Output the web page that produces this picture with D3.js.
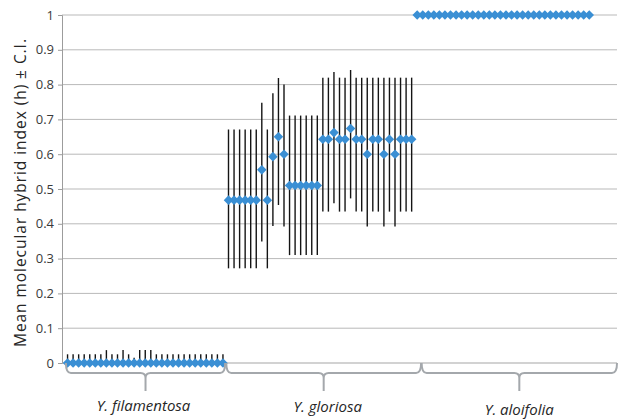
<!DOCTYPE html>
<html>
<head>
<meta charset="utf-8">
<script src="https://cdn.jsdelivr.net/npm/d3@7"></script>
<style>
  body { margin: 0; background: #fff; }
  svg { display: block; }
</style>
</head>
<body>
<div id="chart"></div>
<script>
// species groups (labels under the braces)
var groups = ["Y. filamentosa", "Y. gloriosa", "Y. aloifolia"];

// mean hybrid index per individual, with lower / upper C.I. bounds
var filamentosaMean = [0, 0, 0, 0, 0, 0, 0, 0, 0, 0, 0, 0, 0, 0, 0, 0, 0, 0, 0, 0, 0, 0, 0, 0, 0, 0, 0, 0, 0];
var filamentosaLow = [0, 0, 0, 0, 0, 0, 0, 0, 0, 0, 0, 0, 0, 0, 0, 0, 0, 0, 0, 0, 0, 0, 0, 0, 0, 0, 0, 0, 0];
var filamentosaHigh = [0.025, 0.025, 0.025, 0.025, 0.025, 0.025, 0.025, 0.037, 0.025, 0.025, 0.037, 0.025, 0.015, 0.037, 0.037,
    0.037, 0.025, 0.025, 0.025, 0.025, 0.025, 0.025, 0.025, 0.025, 0.025, 0.025, 0.025, 0.025, 0.025];

var gloriosaMean = [0.468, 0.468, 0.468, 0.468, 0.468, 0.468, 0.555, 0.468, 0.593, 0.65, 0.6,
    0.51, 0.51, 0.51, 0.51, 0.51, 0.51,
    0.643, 0.643, 0.662, 0.643, 0.643, 0.674, 0.643, 0.643, 0.6, 0.643, 0.643, 0.6, 0.643, 0.6, 0.643, 0.643, 0.643];
var gloriosaLow = [0.272, 0.272, 0.272, 0.272, 0.272, 0.272, 0.349, 0.272, 0.394, 0.454, 0.392,
    0.31, 0.31, 0.31, 0.31, 0.31, 0.31,
    0.435, 0.435, 0.459, 0.435, 0.435, 0.473, 0.435, 0.435, 0.392, 0.435, 0.435, 0.392, 0.435, 0.392, 0.435, 0.435, 0.435];
var gloriosaHigh = [0.671, 0.671, 0.671, 0.671, 0.671, 0.671, 0.748, 0.671, 0.775, 0.819, 0.8,
    0.711, 0.711, 0.711, 0.711, 0.711, 0.711,
    0.82, 0.82, 0.836, 0.82, 0.82, 0.842, 0.82, 0.82, 0.82, 0.82, 0.82, 0.82, 0.82, 0.82, 0.82, 0.82, 0.82];

var aloifoliaMean = [1, 1, 1, 1, 1, 1, 1, 1, 1, 1, 1, 1, 1, 1, 1, 1, 1, 1, 1, 1, 1, 1, 1, 1, 1, 1, 1, 1, 1, 1, 1, 1];

// brace spans along the x axis (in individual-number units)
var braceStart = [0.7, 29.6, 64.8];
var braceEnd = [29.4, 64.7, 100];

var yTicks = [0, 0.1, 0.2, 0.3, 0.4, 0.5, 0.6, 0.7, 0.8, 0.9, 1];

var width = 620, height = 419;

var svg = d3.select("#chart").append("svg")
    .attr("width", width)
    .attr("height", height);

// build a flat list of points, numbered 1..n along x
var data = [];
filamentosaMean.forEach(function (m, i) {
    data.push({ n: data.length + 1, mean: m, lo: filamentosaLow[i], hi: filamentosaHigh[i] });
});
gloriosaMean.forEach(function (m, i) {
    data.push({ n: data.length + 1, mean: m, lo: gloriosaLow[i], hi: gloriosaHigh[i] });
});
aloifoliaMean.forEach(function (m) {
    data.push({ n: data.length + 1, mean: m, lo: m, hi: m });
});

var x = d3.scaleLinear().domain([0, 100]).range([62, 617]);
var y = d3.scaleLinear().domain([0, 1]).range([363, 15]);

// gridlines
svg.append("g")
    .selectAll("line")
    .data(yTicks.slice(1))
    .enter().append("line")
    .attr("x1", x(0)).attr("x2", x(100))
    .attr("y1", function (d) { return y(d); })
    .attr("y2", function (d) { return y(d); })
    .attr("stroke", "#b9b9b9")
    .attr("stroke-width", 1);

// y axis
var yAxis = svg.append("g")
    .attr("transform", "translate(" + x(0) + ",0)")
    .call(d3.axisLeft(y).tickValues(yTicks).tickSize(4).tickPadding(4)
        .tickFormat(function (d) { return String(+d.toFixed(1)); }));
yAxis.select(".domain").attr("stroke", "#9c9c9c");
yAxis.selectAll(".tick line").attr("stroke", "#9c9c9c");
yAxis.selectAll("text")
    .attr("fill", "#3a3a3a")
    .style("font-family", "'Open Sans', sans-serif")
    .style("font-size", "13px");

// zero line (x axis)
svg.append("line")
    .attr("x1", x(0)).attr("x2", x(100))
    .attr("y1", y(0)).attr("y2", y(0))
    .attr("stroke", "#a6a6a6")
    .attr("stroke-width", 1.2);

// y title
svg.append("text")
    .attr("transform", "translate(26," + 193 + ") rotate(-90)")
    .attr("text-anchor", "middle")
    .attr("fill", "#262626")
    .style("font-family", "'Open Sans', sans-serif")
    .style("font-size", "15.5px")
    .attr("textLength", 308)
    .attr("lengthAdjust", "spacing")
    .text("Mean molecular hybrid index (h) \u00B1 C.I.");

// error bars
svg.append("g")
    .selectAll("line")
    .data(data.filter(function (d) { return d.hi > d.lo; }))
    .enter().append("line")
    .attr("x1", function (d) { return x(d.n); })
    .attr("x2", function (d) { return x(d.n); })
    .attr("y1", function (d) { return y(d.lo); })
    .attr("y2", function (d) { return y(d.hi); })
    .attr("stroke", "#141414")
    .attr("stroke-width", 1.4);

// diamond markers
var diamond = d3.symbol().type(d3.symbolDiamond2).size(58);
svg.append("g")
    .selectAll("path")
    .data(data)
    .enter().append("path")
    .attr("d", diamond)
    .attr("transform", function (d) { return "translate(" + x(d.n) + "," + y(d.mean) + ")"; })
    .attr("fill", "#3a8fd4");

// braces under each species
var braceTop = 363, braceMid = 373, braceTip = 391, r = 5;
svg.append("g")
    .selectAll("path")
    .data(groups)
    .enter().append("path")
    .attr("d", function (d, i) {
        var x0 = x(braceStart[i]), x1 = x(braceEnd[i]), xm = (x0 + x1) / 2;
        return "M" + x0 + "," + braceTop +
            "Q" + x0 + "," + braceMid + " " + (x0 + r) + "," + braceMid +
            "H" + (xm - r) +
            "Q" + xm + "," + braceMid + " " + xm + "," + (braceMid + r) +
            "V" + braceTip +
            "M" + xm + "," + (braceMid + r) +
            "Q" + xm + "," + braceMid + " " + (xm + r) + "," + braceMid +
            "H" + (x1 - r) +
            "Q" + x1 + "," + braceMid + " " + x1 + "," + braceTop;
    })
    .attr("fill", "none")
    .attr("stroke", "#a4a8ac")
    .attr("stroke-width", 2);

// species labels
var labelY = [411, 412, 415];
var labelShift = [-2, 4, 0];
svg.append("g")
    .selectAll("text")
    .data(groups)
    .enter().append("text")
    .attr("x", function (d, i) { return (x(braceStart[i]) + x(braceEnd[i])) / 2 + labelShift[i]; })
    .attr("y", function (d, i) { return labelY[i]; })
    .attr("text-anchor", "middle")
    .attr("fill", "#262626")
    .style("font-family", "'Open Sans', sans-serif")
    .style("font-style", "italic")
    .style("font-size", "15px")
    .text(function (d) { return d; });
</script>
</body>
</html>
